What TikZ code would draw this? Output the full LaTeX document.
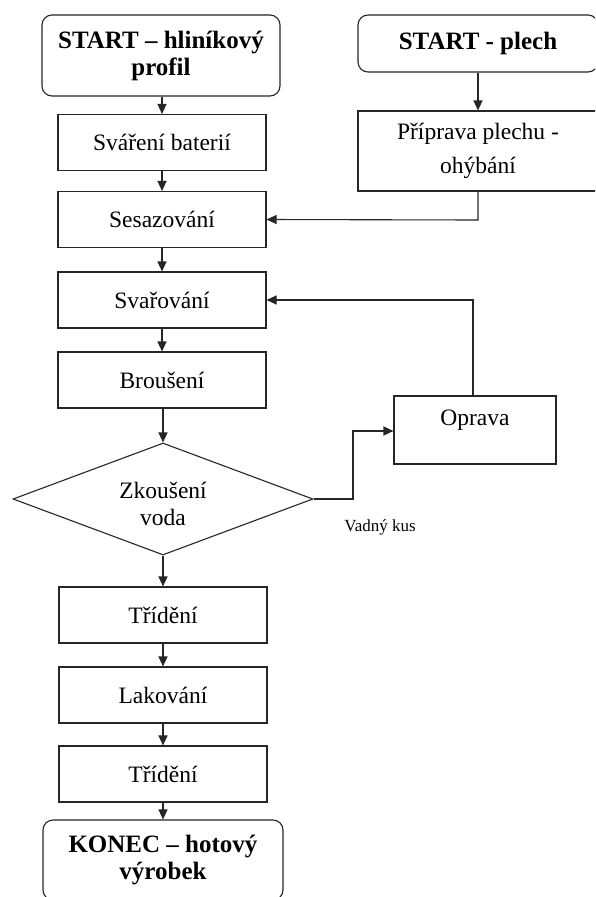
\documentclass[tikz,border=0pt]{standalone}
\usepackage{fontspec}
\setmainfont{Liberation Serif}
\usetikzlibrary{shapes.geometric,arrows.meta}
\tikzset{
  stepbox/.style={draw=black!85, line width=1.1pt, rectangle, minimum width=208pt, minimum height=56pt, inner sep=0pt, align=center, font=\fontsize{23.5}{27}\selectfont},
  startbox/.style={draw=black!85, line width=1.1pt, rectangle, rounded corners=10pt, inner sep=0pt, align=center, font=\fontsize{25}{27}\selectfont\bfseries},
  decision/.style={draw=black!85, line width=1.1pt, diamond, aspect=2.68, inner sep=0pt, minimum width=300pt, minimum height=112pt, align=center},
  conn/.style={draw=black!85, line width=1.1pt, -{Triangle[length=10pt,width=9pt]}},
  lbl/.style={font=\fontsize{23.5}{27}\selectfont, align=center}
}
\begin{document}
\begin{tikzpicture}[x=1pt,y=-1pt]
\useasboundingbox (0,0) rectangle (595,897);
\clip (0,0) rectangle (595,897);
\fill[white] (0,0) rectangle (595,897);

\node[startbox, minimum width=238pt, minimum height=81pt] (hlin) at (161,55.5) {START -- hliníkový\\profil};
\node[startbox, minimum width=240pt, minimum height=57pt] (plech) at (478,43.5) {START - plech};
\node[stepbox, minimum width=240pt, minimum height=80pt, font=\fontsize{23.5}{34}\selectfont] (prip) at (478,151) {Příprava plechu -\\ohýbání};
\node[stepbox] (svar) at (162,142.5) {Sváření baterií};
\node[stepbox] (sesaz) at (162,219.5) {Sesazování};
\node[stepbox] (svarov) at (162,300) {Svařování};
\node[stepbox] (brous) at (162,380) {Broušení};
\node[decision] (zk) at (163,499) {};
\node[lbl] (zktext) at (163,504) {Zkoušení\\voda};
\node[stepbox, minimum width=162pt, minimum height=68pt] (oprava) at (475,430) {};
\node[lbl] (opravatext) at (475,420) {Oprava};
\node[font=\fontsize{17}{20}\selectfont] (vadny) at (380,527) {Vadný kus};
\node[stepbox] (trid1) at (163,615) {Třídění};
\node[stepbox] (lak) at (163,695) {Lakování};
\node[stepbox] (trid2) at (163,774) {Třídění};
\node[startbox, minimum width=240pt, minimum height=80pt] (konec) at (163,860) {KONEC -- hotový\\výrobek};

\coordinate (c1) at (478,220);
\coordinate (c2) at (353,499);
\coordinate (c3) at (353,431);
\coordinate (c4) at (473,300);

\draw[conn] (hlin.south -| svar.north) -- (svar.north);
\draw[conn] (svar) -- (sesaz);
\draw[conn] (plech) -- (prip);
\draw[conn] (prip.south) -- (c1) -- (sesaz.east);
\draw[conn] (sesaz) -- (svarov);
\draw[conn] (svarov) -- (brous);
\draw[conn] (brous.south -| zk.north) -- (zk.north);
\draw[conn] (zk.east) -- (c2) -- (c3) -- (c3 -| oprava.west);
\draw[conn] (oprava.north -| c4) -- (c4) -- (svarov.east);
\draw[conn] (zk.south) -- (trid1.north -| zk.south);
\draw[conn] (trid1) -- (lak);
\draw[conn] (lak) -- (trid2);
\draw[conn] (trid2) -- (konec);
\end{tikzpicture}
\end{document}
